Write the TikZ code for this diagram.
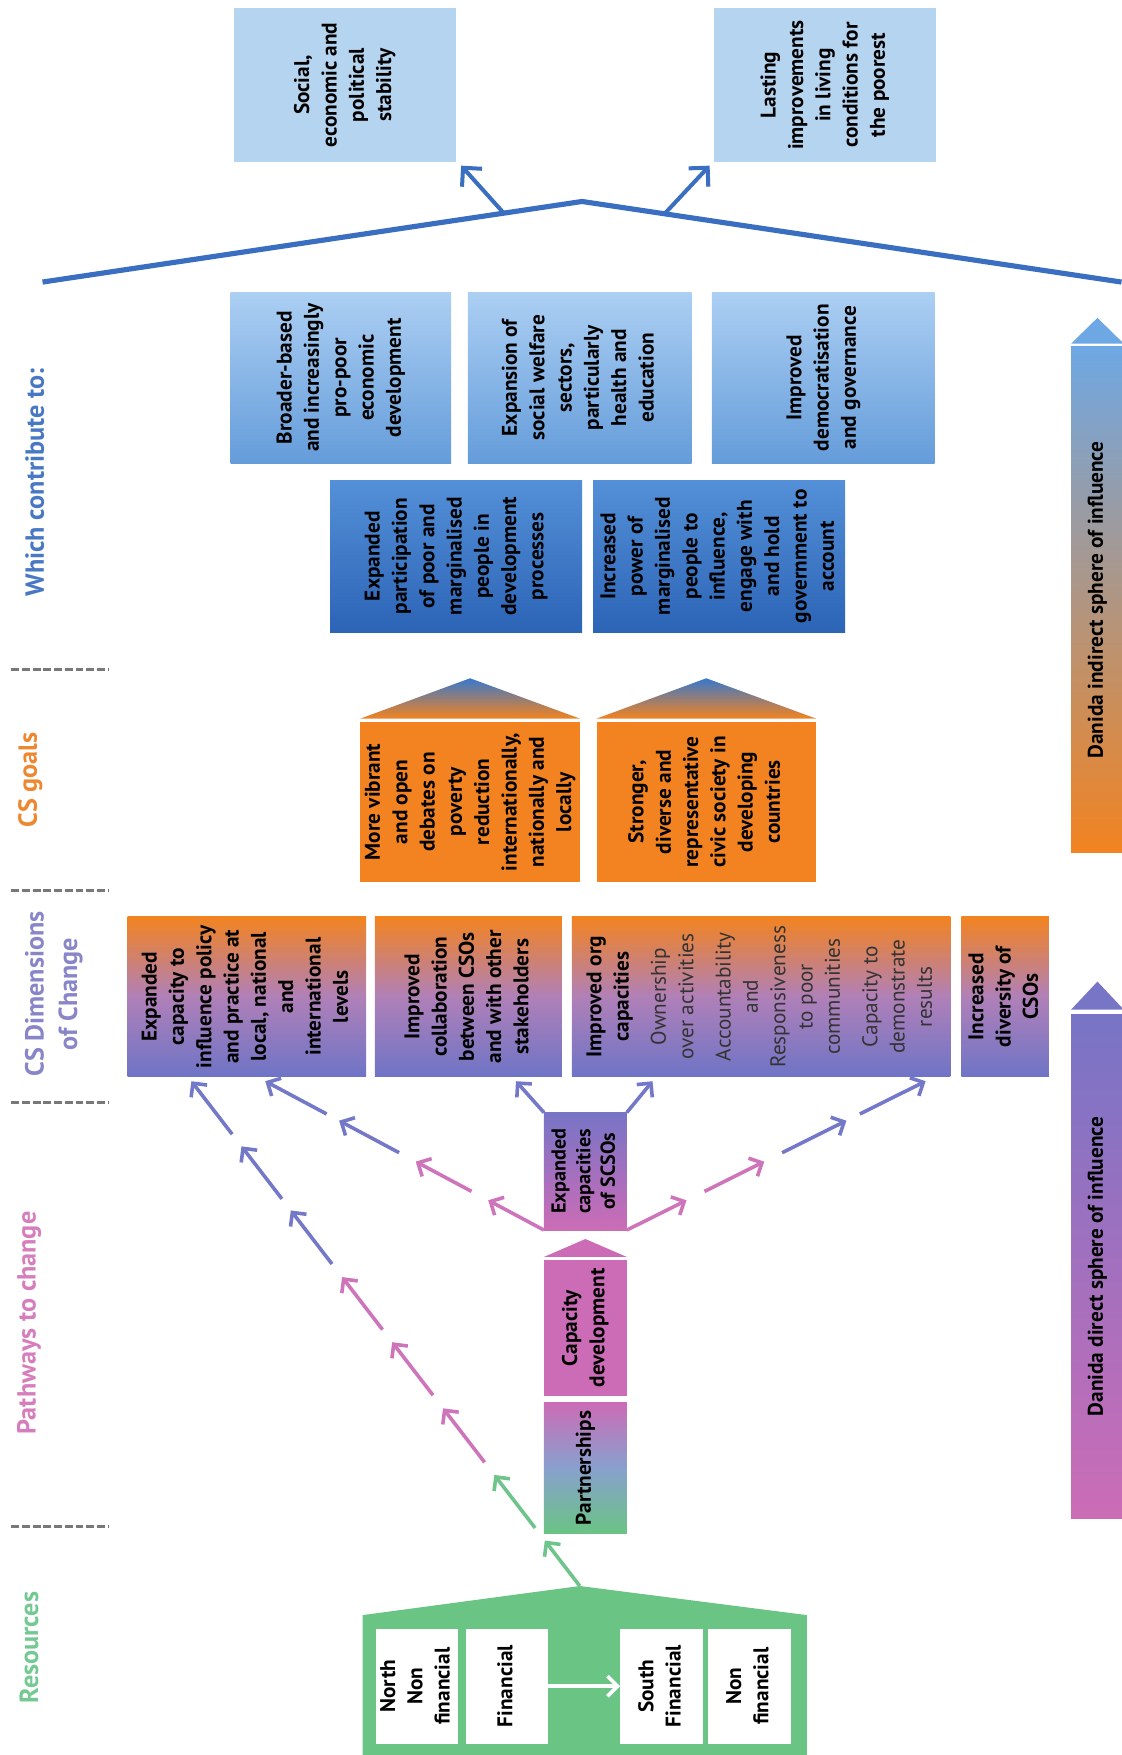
\documentclass[tikz,border=0pt]{standalone}
\usepackage{graphicx}
\usepackage{fontspec}
\setmainfont{PT Sans}
\usetikzlibrary{arrows.meta, calc}
\definecolor{outlight}{RGB}{181,212,240}
\definecolor{ctop}{RGB}{172,207,243}
\definecolor{cbot}{RGB}{100,156,218}
\definecolor{dtop}{RGB}{84,144,216}
\definecolor{dbot}{RGB}{44,100,182}
\definecolor{roofblue}{RGB}{58,110,192}
\definecolor{csorange}{RGB}{242,131,32}
\definecolor{goalblue}{RGB}{56,120,204}
\definecolor{dimmid}{RGB}{176,128,184}
\definecolor{dimbot}{RGB}{110,116,198}
\definecolor{pwpurple}{RGB}{120,116,198}
\definecolor{pwpink}{RGB}{204,108,182}
\definecolor{pwmid}{RGB}{136,160,206}
\definecolor{resgreen}{RGB}{106,196,132}
\definecolor{indtop}{RGB}{110,168,228}
\definecolor{arrblue}{RGB}{116,120,200}
\definecolor{arrpink}{RGB}{206,116,186}
\definecolor{arrgreen}{RGB}{110,196,138}
\definecolor{lblblue}{RGB}{72,120,196}
\definecolor{lblorange}{RGB}{238,136,48}
\definecolor{lblpurple}{RGB}{136,134,200}
\definecolor{lblpink}{RGB}{214,126,188}
\definecolor{lblgreen}{RGB}{116,200,146}
\definecolor{sepgray}{RGB}{120,120,120}
\newcommand{\vtext}[1]{\rotatebox{90}{\begin{tabular}{@{}c@{}}#1\end{tabular}}}
\newcommand{\boxfont}{\fontsize{9.5}{12.2}\selectfont\bfseries}
\newcommand{\lt}[1]{{\mdseries\color{black!80}#1}}

\begin{document}
\begin{tikzpicture}[x=0.5pt, y=-0.5pt,
    blk/.style={inner sep=0pt, outer sep=0pt, font=\boxfont, text=black},
    resbox/.style={blk, fill=white, minimum width=37pt, minimum height=51.5pt},
    lbl/.style={font=\fontsize{11.7}{15}\selectfont\bfseries, rotate=90, inner sep=0pt, align=center},
    sep/.style={draw=sepgray, line width=1.3pt, dash pattern=on 3.5pt off 1.3pt},
    arr/.style={line width=1.6pt, -{Straight Barb[length=4.5pt,width=9pt]}},
    roofline/.style={draw=roofblue, line width=2.3pt},
    roofarr/.style={draw=roofblue, line width=1.8pt, -{Straight Barb[length=6pt,width=12pt]}},
    dimshade/.style={top color=csorange, bottom color=dimbot, middle color=dimmid}]
    \useasboundingbox (0,0) rectangle (1002,1568);

    % Left column labels and separators
    \node[lbl, text=lblblue] (whichlbl) at (31,431) {Which contribute to:};
    \node[lbl, text=lblorange] (goallbl) at (27,697) {CS goals};
    \node[lbl, text=lblpurple] (dimlbl) at (48,888) {CS Dimensions\\of Change};
    \node[lbl, text=lblpink] (pathlbl) at (26,1182) {Pathways to change};
    \node[lbl, text=lblgreen] (reslbl) at (26,1472) {Resources};
    \foreach \y in {598,796,985,1364}
        \draw[sep] (10,\y) -- (97,\y);

    % Long term outcomes
    \node[blk, minimum width=99pt, minimum height=69pt, fill=outlight] (stab) at (308,76) {\vtext{Social,\\economic and\\political\\stability}};
    \node[blk, minimum width=99pt, minimum height=69pt, fill=outlight] (living) at (737,76) {\vtext{Lasting\\improvements\\in living\\conditions for\\the poorest}};

    % Roof over the contributions
    \coordinate (rl) at (38,252);
    \coordinate (ra) at (520,180);
    \coordinate (rr) at (1002,252);
    \draw[roofline] (rl) -- (ra) -- (rr);
    \draw[roofarr] ($(rl)!0.855!(ra)$) -- ($(stab.south east)+(5,3)$);
    \draw[roofarr] ($(ra)!0.153!(rr)$) -- ($(living.south west)+(-4,3)$);

    % Which contribute to
    \node[blk, minimum width=98.5pt, minimum height=76.5pt, top color=ctop, bottom color=cbot] (econ) at (304.5,337.5) {\vtext{Broader-based\\and increasingly\\pro-poor\\economic\\development}};
    \node[blk, minimum width=100pt, minimum height=76.5pt, top color=ctop, bottom color=cbot] (welfare) at (518,337.5) {\vtext{Expansion of\\social welfare\\sectors,\\particularly\\health and\\education}};
    \node[blk, minimum width=99.5pt, minimum height=76.5pt, top color=ctop, bottom color=cbot] (democ) at (735.5,337.5) {\vtext{Improved\\democratisation\\and governance}};
    \node[blk, minimum width=112.5pt, minimum height=68pt, top color=dtop, bottom color=dbot] (partic) at (407.5,497) {\vtext{Expanded\\participation\\of poor and\\marginalised\\people in\\development\\processes}};
    \node[blk, minimum width=112.5pt, minimum height=68pt, top color=dtop, bottom color=dbot] (power) at (642.5,497) {\vtext{Increased\\power of\\marginalised\\people to\\influence,\\engage with\\and hold\\government to\\account}};

    % CS goals
    \node[blk, minimum width=98pt, minimum height=71.5pt, fill=csorange] (debate) at (420,716.5) {\vtext{More vibrant\\and open\\debates on\\poverty\\reduction\\internationally,\\nationally and\\locally}};
    \node[blk, minimum width=98pt, minimum height=71.5pt, fill=csorange] (civic) at (631,716.5) {\vtext{Stronger,\\diverse and\\representative\\civic society in\\developing\\countries}};
    \foreach \g in {debate, civic}
        \shade[top color=goalblue, bottom color=csorange] ($(\g.north west)+(0,-3)$) -- ($(\g.north)+(0,-39)$) -- ($(\g.north east)+(0,-3)$) -- cycle;

    % CS dimensions of change
    \node[blk, minimum width=106.5pt, minimum height=71.5pt, dimshade] (policy) at (220.5,890.5) {\vtext{Expanded\\capacity to\\influence policy\\and practice at\\local, national\\and\\international\\levels}};
    \node[blk, minimum width=83.5pt, minimum height=71.5pt, dimshade] (collab) at (418.5,890.5) {\vtext{Improved\\collaboration\\between CSOs\\and with other\\stakeholders}};
    \node[blk, minimum width=169pt, minimum height=71.5pt, dimshade] (orgcap) at (680,890.5) {\vtext{Improved org\\capacities\\[4.5pt]\lt{Ownership}\\\lt{over activities}\\[4.5pt]\lt{Accountability}\\\lt{and}\\\lt{Responsiveness}\\\lt{to poor}\\\lt{communities}\\[4.5pt]\lt{Capacity to}\\\lt{demonstrate}\\\lt{results}}};
    \node[blk, minimum width=39pt, minimum height=71.5pt, dimshade] (divers) at (898,890.5) {\vtext{Increased\\diversity of\\CSOs}};

    % Pathways to change
    \node[blk, minimum width=37pt, minimum height=52.5pt, top color=pwpurple, bottom color=pwpink, font=\fontsize{9}{11}\selectfont\bfseries] (scso) at (523,1046.5) {\vtext{Expanded\\capacities\\of SCSOs}};
    \node[blk, minimum width=37pt, minimum height=60.5pt, fill=pwpink] (capdev) at (523,1186.5) {\vtext{Capacity\\development}};
    \fill[pwpink] ($(capdev.north west)+(0,-3)$) -- ($(capdev.north)+(0,-19)$) -- ($(capdev.north east)+(0,-3)$) -- cycle;
    \node[blk, minimum width=37pt, minimum height=58.5pt, top color=pwpink, bottom color=resgreen, middle color=pwmid] (partner) at (523,1311.5) {\vtext{Partnerships}};

    % Resources
    \coordinate (resapex) at (518,1417);
    \fill[resgreen] (324,1568) -- (324,1443) -- (resapex) -- (721,1443) -- (721,1568) -- cycle;
    \node[resbox] (northnon) at (372.5,1506.5) {\vtext{North\\Non\\financial}};
    \node[resbox] (northfin) at (453,1506.5) {\vtext{Financial}};
    \node[resbox] (southfin) at (591,1506.5) {\vtext{South\\Financial}};
    \node[resbox] (southnon) at (669.5,1506.5) {\vtext{Non\\financial}};
    \draw[arr, white] (northfin.east) -- (southfin.west);

    % Danida spheres of influence
    \node[blk, minimum width=23.5pt, minimum height=226pt, top color=indtop, bottom color=csorange] (indirect) at (980.5,536) {\vtext{Danida indirect sphere of influence}};
    \fill[indtop] ($(indirect.north west)+(0,-3)$) -- ($(indirect.north)+(0,-26)$) -- ($(indirect.north east)+(0,-3)$) -- cycle;
    \node[blk, minimum width=23.5pt, minimum height=225.5pt, top color=pwpurple, bottom color=pwpink] (direct) at (980.5,1131.5) {\vtext{Danida direct sphere of influence}};
    \fill[pwpurple] ($(direct.north west)+(0,-4)$) -- ($(direct.north)+(0,-29)$) -- ($(direct.north east)+(0,-4)$) -- cycle;

    % Pathway arrows
    \coordinate (tipA) at (171,966);
    \coordinate (tipB) at (237,966);
    \coordinate (tipC) at (461,966);
    \coordinate (tipD) at (583,966);
    \coordinate (tipE) at (827,966);
    \foreach \a/\b/\c in {0/0.09/arrgreen, 0.115/0.22/arrgreen, 0.245/0.352/arrpink, 0.378/0.483/arrpink, 0.508/0.612/arrpink, 0.638/0.744/arrblue, 0.767/0.871/arrblue, 0.895/1/arrblue}
        \draw[arr, \c] ($(resapex)!\a!(tipA)$) -- ($(resapex)!\b!(tipA)$);
    \foreach \a/\b/\c in {0/0.2/arrpink, 0.26/0.46/arrpink, 0.52/0.735/arrblue, 0.78/1/arrblue} {
        \draw[arr, \c] ($(scso.south west)!\a!(tipB)$) -- ($(scso.south west)!\b!(tipB)$);
        \draw[arr, \c] ($(scso.south east)!\a!(tipE)$) -- ($(scso.south east)!\b!(tipE)$);
    }
    \draw[arr, arrblue] (scso.north west) -- (tipC);
    \draw[arr, arrblue] (scso.north east) -- (tipD);
\end{tikzpicture}
\end{document}
